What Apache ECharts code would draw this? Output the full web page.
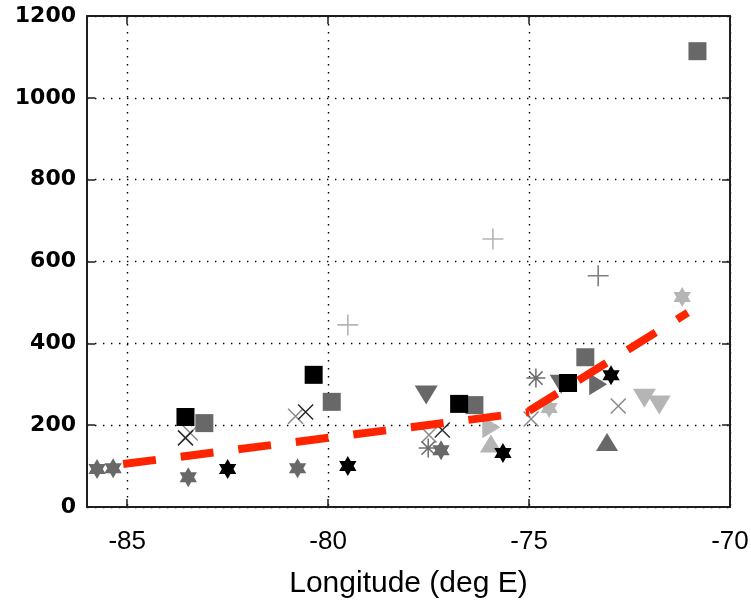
<!DOCTYPE html>
<html>
<head>
<meta charset="utf-8">
<script src="https://cdn.jsdelivr.net/npm/echarts@6/dist/echarts.min.js"></script>
<style>
  html, body { margin: 0; padding: 0; background: #fff; }
  #chart { width: 751px; height: 605px; }
</style>
</head>
<body>
<div id="chart"></div>
<script>
// Axis ticks
const lonTicks = [-85, -80, -75, -70];
const valueTicks = [0, 200, 400, 600, 800, 1000, 1200];

// Station groups as [longitude (deg E), value]
const starGray = [[-85.75, 93], [-85.35, 95], [-83.48, 73], [-80.76, 95], [-77.19, 139]];
const starBlack = [[-82.5, 93], [-79.51, 100], [-75.65, 132], [-72.96, 322]];
const starLight = [[-74.5, 242], [-71.19, 513]];
const squareBlack = [[-83.55, 220], [-80.36, 323], [-76.74, 252], [-74.03, 303]];
const squareGray = [[-83.08, 205], [-79.91, 257], [-76.36, 249], [-73.6, 366], [-70.81, 1114]];
const triDownGray = [[-77.56, 274], [-74.2, 300]];
const triDownLight = [[-72.13, 266], [-71.76, 249]];
const triUpGray = [[-73.06, 159]];
const triUpLight = [[-75.95, 155]];
const triRightLight = [[-75.94, 195]];
const triRightGray = [[-73.28, 300]];
const crossGray = [[-83.43, 181], [-80.81, 222], [-77.49, 176], [-74.95, 215], [-72.78, 247]];
const crossDark = [[-83.55, 169], [-80.56, 232], [-77.16, 188]];
const plusLight = [[-79.51, 445], [-75.9, 655]];
const plusGray = [[-73.28, 565]];
const asteriskGray = [[-77.51, 144], [-74.83, 315]];

// Piecewise linear trend, west and east of -75
const fitWest = [[-85.1, 105], [-75, 232]];
const fitEast = [[-75, 235], [-71.05, 475]];

// Marker shapes
const HEXAGRAM = 'path://M0,-1L0.2887,-0.5L0.866,-0.5L0.577,0L0.866,0.5L0.2887,0.5L0,1L-0.2887,0.5L-0.866,0.5L-0.577,0L-0.866,-0.5L-0.2887,-0.5Z';
const CROSS = 'path://M-1,-1L1,1M-1,1L1,-1';
const PLUS = 'path://M0,-1L0,1M-1,0L1,0';
const ASTERISK = 'path://M0,-1L0,1M-1,0L1,0M-0.707,-0.707L0.707,0.707M-0.707,0.707L0.707,-0.707';

const DARK = '#686868';
const LIGHT = '#b5b5b5';

function filled(data, symbol, size, color, rotate) {
  return {
    type: 'scatter', data: data, symbol: symbol, symbolSize: size,
    symbolRotate: rotate || 0, symbolKeepAspect: symbol === HEXAGRAM,
    itemStyle: { color: color, borderWidth: 0, opacity: 1 },
    emphasis: { disabled: true }, silent: true, z: 3
  };
}
function stroked(data, symbol, size, color, width) {
  return {
    type: 'scatter', data: data, symbol: symbol, symbolSize: size,
    itemStyle: { color: 'rgba(0,0,0,0)', borderColor: color, borderWidth: width || 1.5, opacity: 1 },
    emphasis: { disabled: true }, silent: true, z: 3
  };
}
function fit(data) {
  return {
    type: 'line', data: data, symbol: 'none', silent: true, z: 5,
    lineStyle: { color: '#ff2400', width: 8, type: [33, 25], cap: 'butt', opacity: 1 },
    emphasis: { disabled: true }
  };
}

const axisColor = '#1e1e1e';
const chart = echarts.init(document.getElementById('chart'), null, { renderer: 'canvas' });
chart.setOption({
  animation: false,
  backgroundColor: '#fff',
  grid: { left: 87, right: 21, top: 16, bottom: 98, outerBoundsMode: 'none' },
  xAxis: [{
    type: 'value', min: -86, max: -70, position: 'bottom',
    axisLine: { onZero: false, lineStyle: { color: axisColor, width: 2 } },
    axisTick: { inside: true, length: 8, customValues: lonTicks, lineStyle: { color: axisColor, width: 1.5 } },
    axisLabel: { customValues: lonTicks, color: '#000', fontFamily: 'Liberation Sans', fontSize: 26, margin: 22 },
    splitLine: { show: true, lineStyle: { color: '#000', width: 1.4, type: [1.4, 6.6] } },
    name: 'Longitude (deg E)', nameLocation: 'middle', nameGap: 62,
    nameTextStyle: { color: '#000', fontFamily: 'Liberation Sans', fontSize: 30 }
  }, {
    type: 'value', min: -86, max: -70, position: 'top',
    axisLine: { onZero: false, lineStyle: { color: axisColor, width: 2 } },
    axisTick: { inside: true, length: 8, customValues: lonTicks, lineStyle: { color: axisColor, width: 1.5 } },
    axisLabel: { show: false }, splitLine: { show: false }
  }],
  yAxis: [{
    type: 'value', min: 0, max: 1200, interval: 200, position: 'left',
    axisLine: { show: true, onZero: false, lineStyle: { color: axisColor, width: 2 } },
    axisTick: { show: true, inside: true, length: 8, lineStyle: { color: axisColor, width: 1.5 } },
    axisLabel: { color: '#000', fontFamily: 'DejaVu Sans', fontWeight: 'bold', fontSize: 22, margin: 11,
      formatter: v => valueTicks.indexOf(v) >= 0 ? String(v) : '' },
    splitLine: { show: true, lineStyle: { color: '#000', width: 1.4, type: [1.4, 6.6] } }
  }, {
    type: 'value', min: 0, max: 1200, interval: 200, position: 'right',
    axisLine: { show: true, onZero: false, lineStyle: { color: axisColor, width: 2 } },
    axisTick: { show: true, inside: true, length: 8, lineStyle: { color: axisColor, width: 1.5 } },
    axisLabel: { show: false }, splitLine: { show: false }
  }],
  series: [
    stroked(plusLight, PLUS, 21, LIGHT, 1.6),
    stroked(plusGray, PLUS, 21, '#808080', 1.6),
    stroked(crossGray, CROSS, 15, '#8a8a8a', 1.5),
    stroked(crossDark, CROSS, 15, '#2a2a2a', 1.5),
    stroked(asteriskGray, ASTERISK, 19, '#6e6e6e', 1.5),
    filled(triUpLight, 'triangle', [22, 18], LIGHT),
    filled(triRightLight, 'triangle', [22, 18], LIGHT, -90),
    filled(triUpGray, 'triangle', [22, 18], DARK),
    filled(triRightGray, 'triangle', [22, 18], DARK, -90),
    filled(triDownLight, 'triangle', [23, 19], LIGHT, 180),
    filled(triDownGray, 'triangle', [23, 19], DARK, 180),
    filled(squareGray, 'rect', 18, DARK),
    filled(squareBlack, 'rect', 18, '#000'),
    filled(starLight, HEXAGRAM, 20, LIGHT),
    filled(starGray, HEXAGRAM, 20, DARK),
    filled(starBlack, HEXAGRAM, 20, '#000'),
    fit(fitWest),
    fit(fitEast)
  ]
});
</script>
</body>
</html>
